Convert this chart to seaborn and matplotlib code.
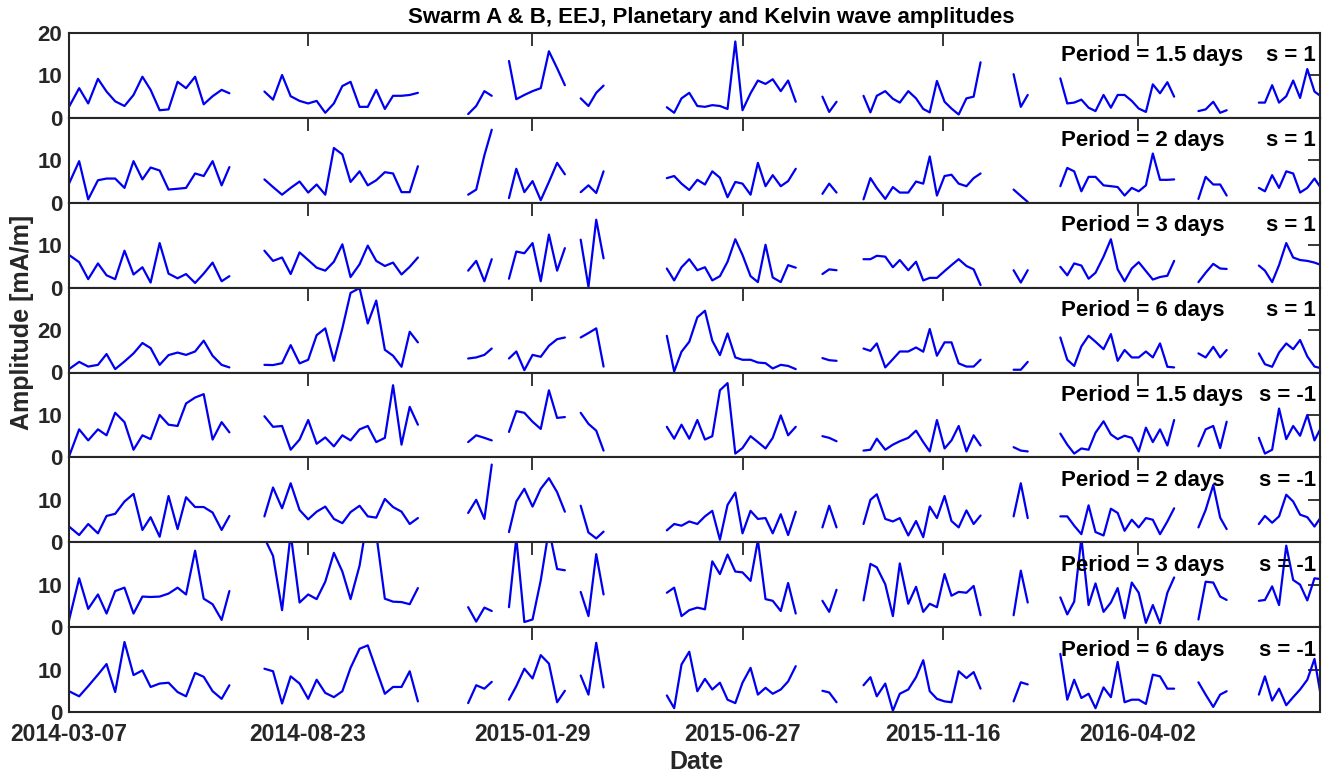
import numpy as np
import pandas as pd
import matplotlib
matplotlib.use("Agg")
import matplotlib.pyplot as plt
import seaborn as sns

# ---------------- data ----------------
start_date = "2014-03-07"
end_day = 886
tick_labels = ["2014-03-07", "2014-08-23", "2015-01-29", "2015-06-27", "2015-11-16", "2016-04-02"]

# sample times (days after 2014-03-07)
sample_days = [
    0.0, 7.2, 13.6, 20.5, 26.6, 32.7, 39.3, 45.7, 52.0, 57.8, 64.2, 70.5, 76.9, 82.9, 89.3, 95.4, 101.7, 108.1, 113.6,
    138.4, 144.5, 150.9, 157.0, 163.3, 169.4, 175.4, 181.5, 187.6, 193.6, 199.4, 205.8, 211.6, 217.6, 223.7, 229.5, 235.5, 241.3, 247.1,
    282.7, 288.4, 294.2, 299.4,
    311.6, 316.8, 322.5, 328.3, 334.1, 339.9, 345.7, 351.2,
    362.4, 367.9, 373.4, 378.6,
    423.4, 428.6, 433.8, 439.3, 445.0, 450.4, 455.6, 461.0, 466.4, 471.9, 477.0, 482.7, 487.9, 493.3, 498.4, 504.1, 509.3, 514.7,
    533.6, 538.4, 543.6,
    562.7, 567.6, 572.1, 578.1, 583.5, 588.4, 594.4, 599.9, 605.0, 609.6, 614.7, 620.1, 625.0, 630.1, 635.6, 640.7, 645.6,
    669.0, 674.1, 679.0,
    702.1, 707.0, 711.9, 717.0, 722.1, 727.0, 732.7, 737.9, 742.7, 747.6, 752.7, 757.6, 762.7, 767.6, 772.7, 777.9, 782.7,
    799.9, 805.0, 810.4, 815.3, 819.9,
    842.7, 847.0, 852.1, 857.0, 862.1, 867.0, 871.9, 877.0, 882.1, 887.0,
]

amp_p15_s1 = [
    2.6, 7.0, 3.4, 9.2, 6.2, 3.9, 2.8, 5.4, 9.7, 6.6, 1.8, 2.0, 8.5, 7.0, 9.7, 3.2, 5.1, 6.6, 5.8,
    6.2, 4.3, 10.1, 5.1, 4.0, 3.4, 4.0, 1.2, 3.4, 7.5, 8.5, 2.6, 2.6, 6.6, 2.1, 5.2, 5.2, 5.4, 5.9,
    0.9, 2.8, 6.3, 5.2,
    13.4, 4.4, 5.4, 6.3, 7.0, 15.7, 11.7, 7.7,
    4.6, 2.8, 5.9, 7.6,
    2.5, 1.2, 4.6, 5.9, 2.8, 2.6, 3.0, 2.8, 2.1, 18.0, 1.8, 5.8, 8.8, 8.0, 9.1, 6.3, 8.8, 3.8,
    5.0, 1.4, 3.8,
    5.2, 1.3, 5.2, 6.3, 4.5, 3.6, 6.3, 4.6, 2.1, 1.3, 8.7, 3.8, 2.2, 0.8, 4.6, 5.0, 13.1,
    10.3, 2.6, 5.4,
    9.3, 3.4, 3.6, 4.3, 2.4, 1.6, 5.4, 2.4, 5.4, 5.4, 4.0, 2.2, 1.4, 7.9, 5.8, 8.4, 5.0,
    1.6, 2.0, 3.8, 1.2, 1.8,
    3.6, 3.6, 7.7, 3.6, 5.1, 8.8, 4.7, 11.5, 6.2, 5.0,
]
amp_p2_s1 = [
    4.5, 9.8, 0.8, 5.3, 5.7, 5.7, 3.5, 9.8, 5.5, 8.3, 7.6, 3.1, 3.3, 3.5, 6.9, 6.3, 9.8, 4.1, 8.4,
    5.5, 3.7, 1.9, 3.5, 5.0, 2.4, 4.3, 1.9, 12.9, 11.4, 4.9, 7.4, 4.1, 5.3, 7.2, 6.9, 2.5, 2.5, 8.6,
    1.9, 3.1, 11.2, 17.2,
    1.1, 8.0, 2.5, 5.1, 0.6, 4.9, 9.4, 6.7,
    2.5, 4.1, 2.3, 7.4,
    5.8, 6.3, 4.5, 3.0, 5.4, 4.3, 7.4, 5.9, 1.3, 4.9, 4.5, 1.9, 9.4, 3.9, 6.5, 3.9, 5.1, 8.0,
    2.1, 4.5, 2.4,
    0.8, 5.8, 3.5, 0.9, 3.7, 2.4, 2.4, 5.0, 4.5, 10.9, 1.7, 6.3, 6.6, 4.5, 3.9, 5.8, 6.9,
    3.1, 1.6, 0.2,
    3.9, 8.2, 7.4, 2.7, 6.1, 6.1, 4.1, 3.9, 3.7, 1.7, 3.5, 2.7, 4.1, 11.6, 5.4, 5.4, 5.5,
    0.9, 6.1, 4.3, 4.3, 1.7,
    3.5, 2.7, 6.5, 3.5, 7.4, 6.9, 2.4, 3.5, 5.7, 3.3,
]
amp_p3_s1 = [
    7.7, 6.0, 2.0, 5.7, 2.9, 2.0, 8.7, 3.1, 4.8, 1.2, 10.5, 3.3, 2.2, 3.2, 1.1, 3.3, 5.9, 1.5, 2.7,
    8.7, 6.3, 7.1, 3.2, 8.3, 6.5, 4.7, 4.0, 6.1, 10.2, 2.5, 5.5, 9.9, 6.3, 5.1, 5.9, 3.1, 4.9, 7.1,
    4.0, 6.3, 1.5, 6.7,
    2.1, 8.5, 8.1, 10.5, 1.5, 12.5, 4.0, 9.3,
    11.3, 0.2, 16.0, 6.9,
    4.5, 1.7, 4.8, 6.7, 4.1, 4.8, 1.7, 2.7, 6.1, 11.4, 7.7, 2.7, 1.3, 10.1, 2.4, 1.3, 5.3, 4.7,
    3.2, 4.3, 4.1,
    6.7, 6.7, 7.5, 7.3, 4.8, 6.5, 4.1, 6.1, 1.7, 2.3, 2.3, 3.9, 5.3, 6.7, 5.1, 4.3, 0.6,
    4.1, 1.2, 4.1,
    4.9, 2.9, 5.7, 5.2, 2.1, 3.5, 7.3, 11.4, 4.3, 1.5, 4.5, 6.0, 3.9, 1.9, 2.5, 2.8, 6.3,
    1.3, 3.5, 5.6, 4.5, 4.4,
    5.2, 4.0, 1.3, 5.3, 10.5, 7.1, 6.5, 6.3, 5.9, 5.3,
]
amp_p6_s1 = [
    1.6, 5.0, 2.8, 3.6, 8.7, 1.6, 5.2, 9.0, 13.9, 11.5, 3.6, 8.2, 9.4, 8.3, 9.9, 15.0, 7.9, 3.6, 2.4,
    3.6, 3.5, 4.4, 12.9, 4.3, 6.0, 17.6, 20.8, 5.5, 20.8, 37.5, 39.8, 23.1, 33.9, 10.7, 7.9, 2.7, 19.2, 14.2,
    6.6, 7.1, 8.3, 11.3,
    6.6, 9.9, 1.1, 8.3, 7.4, 12.6, 15.7, 16.5,
    16.5, 18.6, 20.8, 2.8,
    17.3, 0.5, 9.8, 14.5, 26.0, 29.1, 15.0, 8.2, 18.4, 7.1, 6.0, 6.0, 4.7, 4.4, 1.9, 3.6, 3.1, 1.6,
    6.8, 5.8, 5.5,
    11.3, 10.2, 13.7, 2.4, 6.3, 9.9, 9.9, 11.8, 9.8, 20.5, 7.9, 14.2, 14.2, 4.3, 2.8, 2.8, 6.0,
    1.3, 1.3, 5.0,
    16.5, 6.0, 3.1, 12.3, 17.3, 14.5, 11.0, 18.1, 5.5, 10.6, 7.1, 7.1, 9.9, 7.1, 13.7, 2.7, 2.4,
    9.0, 7.1, 12.1, 7.1, 10.6,
    9.0, 3.9, 2.7, 9.4, 13.7, 11.0, 15.3, 7.6, 2.8, 2.0,
]
amp_p15_sm1 = [
    0.2, 6.6, 4.0, 6.6, 5.2, 10.5, 8.3, 1.8, 5.2, 4.3, 10.0, 7.7, 7.4, 12.7, 14.1, 14.9, 4.2, 8.3, 5.9,
    9.7, 7.2, 7.4, 1.8, 4.2, 8.8, 3.2, 4.7, 2.6, 5.2, 4.0, 6.6, 7.4, 3.6, 4.6, 17.0, 3.0, 11.9, 7.7,
    3.6, 5.2, 4.6, 4.0,
    6.0, 10.9, 10.5, 8.4, 6.7, 15.8, 9.3, 9.5,
    10.5, 7.9, 6.3, 1.6,
    7.2, 4.4, 7.7, 4.4, 8.8, 4.2, 5.0, 15.8, 17.5, 0.9, 2.2, 5.0, 3.6, 2.1, 4.6, 9.9, 5.2, 7.2,
    5.0, 4.6, 3.8,
    1.6, 1.8, 4.4, 1.8, 3.0, 3.8, 4.6, 6.3, 3.6, 1.4, 8.8, 2.1, 4.0, 7.4, 1.4, 5.2, 2.8,
    2.4, 1.6, 1.4,
    5.6, 3.0, 0.9, 2.1, 1.8, 5.8, 8.5, 5.4, 4.3, 5.1, 4.6, 1.4, 7.0, 3.6, 6.6, 2.8, 8.8,
    2.6, 6.6, 7.4, 2.2, 8.4,
    4.6, 0.9, 1.8, 11.5, 4.3, 7.4, 5.1, 10.0, 4.0, 7.2,
]
amp_p2_sm1 = [
    3.7, 1.7, 4.3, 2.1, 6.2, 6.7, 9.6, 11.4, 2.9, 5.9, 1.3, 10.9, 3.1, 10.6, 8.3, 8.3, 7.0, 2.9, 6.2,
    6.1, 12.9, 8.0, 13.9, 7.6, 5.4, 7.2, 8.4, 5.5, 4.5, 7.1, 8.6, 6.1, 5.8, 10.2, 8.3, 7.2, 4.3, 5.7,
    6.9, 10.0, 5.5, 18.3,
    2.4, 9.6, 12.6, 8.4, 12.6, 15.1, 11.8, 7.2,
    8.6, 2.3, 0.9, 2.5,
    2.8, 4.3, 3.9, 4.9, 4.3, 6.1, 7.4, 0.6, 8.8, 11.7, 2.1, 7.4, 5.5, 5.7, 2.1, 6.6, 1.7, 7.2,
    3.5, 8.6, 3.5,
    4.3, 10.0, 11.3, 5.5, 4.9, 5.7, 1.6, 5.0, 1.2, 8.4, 5.7, 10.9, 5.0, 3.5, 7.5, 4.3, 6.3,
    6.1, 13.9, 5.7,
    6.1, 6.1, 3.9, 1.9, 8.7, 2.4, 1.6, 7.9, 6.9, 2.7, 5.3, 3.5, 5.7, 5.3, 1.9, 4.9, 8.0,
    3.5, 7.6, 13.5, 5.8, 3.1,
    4.3, 6.2, 4.6, 6.1, 11.2, 9.6, 6.5, 5.9, 3.7, 6.1,
]
amp_p3_sm1 = [
    1.6, 11.5, 4.3, 7.7, 3.2, 8.5, 9.3, 3.2, 7.2, 7.1, 7.2, 7.9, 9.3, 7.7, 18.0, 6.7, 5.4, 1.7, 8.5,
    21.0, 16.8, 4.0, 22.0, 5.8, 7.7, 6.6, 10.7, 17.5, 13.1, 6.6, 14.5, 26.0, 22.0, 6.7, 6.0, 5.9, 5.4, 9.2,
    4.7, 1.3, 4.6, 3.8,
    4.7, 21.0, 1.2, 1.8, 11.0, 23.0, 13.7, 13.4,
    8.3, 2.6, 17.2, 7.7,
    8.1, 9.3, 2.6, 4.0, 4.6, 4.2, 15.5, 12.5, 17.1, 13.1, 12.9, 10.9, 20.5, 6.6, 6.2, 3.8, 10.4, 3.2,
    6.2, 3.6, 8.8,
    6.3, 14.9, 14.1, 10.1, 2.6, 15.0, 5.5, 9.5, 3.6, 5.5, 4.7, 12.5, 7.4, 8.3, 8.1, 9.7, 2.8,
    2.8, 13.3, 5.8,
    7.0, 3.0, 6.0, 21.0, 5.2, 10.3, 3.6, 5.8, 9.2, 2.1, 10.5, 8.1, 1.0, 5.2, 0.9, 8.1, 11.7,
    1.8, 10.7, 10.5, 7.2, 6.4,
    6.2, 6.4, 9.6, 5.2, 19.2, 11.1, 10.0, 6.3, 11.5, 11.3,
]
amp_p6_sm1 = [
    4.9, 3.7, 6.1, 8.8, 11.3, 4.7, 16.5, 8.7, 9.8, 5.9, 6.7, 6.9, 4.7, 3.7, 9.2, 8.3, 4.9, 3.1, 6.3,
    10.2, 9.6, 2.0, 8.4, 6.7, 3.1, 7.6, 4.5, 3.5, 4.9, 10.4, 14.9, 15.7, 10.0, 4.3, 5.9, 5.9, 9.6, 2.5,
    2.1, 6.3, 5.5, 7.1,
    2.9, 6.1, 10.2, 7.9, 13.4, 11.4, 2.3, 5.0,
    8.6, 4.1, 16.3, 5.8,
    3.9, 0.9, 11.2, 14.2, 4.9, 7.8, 5.3, 6.9, 2.9, 2.1, 6.9, 10.4, 4.1, 5.7, 4.3, 5.3, 7.2, 10.8,
    5.0, 4.6, 2.3,
    6.3, 8.2, 3.7, 6.7, 0.3, 4.3, 5.3, 8.2, 12.2, 4.9, 3.1, 2.5, 2.3, 9.6, 8.0, 9.4, 5.5,
    2.5, 7.0, 6.5,
    13.7, 2.9, 7.6, 3.3, 4.3, 0.9, 5.8, 3.5, 11.8, 2.3, 2.9, 2.9, 1.9, 8.8, 8.4, 5.5, 5.5,
    7.0, 4.1, 1.2, 4.1, 4.9,
    4.1, 8.4, 2.7, 5.5, 1.6, 3.5, 5.3, 7.6, 12.5, 3.0,
]

panel_amps = [amp_p15_s1, amp_p2_s1, amp_p3_s1, amp_p6_s1,
              amp_p15_sm1, amp_p2_sm1, amp_p3_sm1, amp_p6_sm1]
periods = ["1.5", "2", "3", "6", "1.5", "2", "3", "6"]
s_values = ["1", "1", "1", "1", "-1", "-1", "-1", "-1"]
y_max = [20, 20, 20, 40, 20, 20, 20, 20]
y_ticks = [[0, 10, 20], [0, 10], [0, 10], [0, 20], [0, 10], [0, 10], [0, 10], [0, 10]]

# ---------------- style ----------------
sns.set_theme(style="white")
plt.rcParams["font.family"] = ["Liberation Sans", "DejaVu Sans"]
plt.rcParams["font.weight"] = "bold"
axis_color = "#262626"

fig = plt.figure(figsize=(13.22, 7.73), dpi=100)
W, H = 1322, 773
gs = fig.add_gridspec(8, 1, left=69 / W, right=1320 / W, top=1 - 33 / H, bottom=1 - 712 / H, hspace=0)

t0 = pd.Timestamp(start_date)
dates = t0 + pd.to_timedelta(np.array(sample_days), unit="D")
tick_pos = [pd.Timestamp(t) for t in tick_labels]
days_arr = np.array(sample_days)
seg_start = np.r_[True, np.diff(days_arr) > 9]

axes = []
for i, amps in enumerate(panel_amps):
    ax = fig.add_subplot(gs[i])
    vals = np.array(amps, dtype=float)
    run = np.cumsum(seg_start | np.isnan(vals))
    df = pd.DataFrame({"date": dates, "amp": vals, "run": run}).dropna()
    sns.lineplot(data=df, x="date", y="amp", units="run", estimator=None,
                 color="#0000f0", linewidth=1.6, ax=ax, legend=False)
    ax.set_xlim(t0, t0 + pd.Timedelta(days=end_day))
    ax.set_ylim(0, y_max[i])
    ax.set_yticks(y_ticks[i])
    ax.set_yticklabels([str(v) for v in y_ticks[i]])
    ax.set_xticks(tick_pos)
    if i == 7:
        ax.set_xticklabels(tick_labels)
    else:
        ax.set_xticklabels([])
    ax.set_xlabel("")
    ax.set_ylabel("")
    ax.tick_params(axis="both", direction="in", length=9, width=1.3, color=axis_color,
                   top=True, right=True, labelcolor=axis_color)
    ax.tick_params(axis="x", pad=8, labelsize=16.5)
    ax.tick_params(axis="y", pad=5, labelsize=16)
    for lab in ax.get_xticklabels() + ax.get_yticklabels():
        lab.set_fontweight("bold")
    for sp in ax.spines.values():
        sp.set_color(axis_color)
        sp.set_linewidth(1.5)
        sp.set_visible(True)
    ax.text(0.793, 0.73, f"Period = {periods[i]} days", transform=ax.transAxes,
            ha="left", va="center", fontsize=16, fontweight="bold", color="black")
    ax.text(0.997, 0.73, f"s = {s_values[i]}", transform=ax.transAxes,
            ha="right", va="center", fontsize=16, fontweight="bold", color="black")
    axes.append(ax)

fig.text(711.5 / W, 1 - 18 / H, "Swarm A & B, EEJ, Planetary and Kelvin wave amplitudes",
         ha="center", va="center", fontsize=16, fontweight="bold", color="black")
fig.text(696 / W, 1 - 762 / H, "Date", ha="center", va="center",
         fontsize=18, fontweight="bold", color=axis_color)
fig.text(22 / W, 1 - 322 / H, "Amplitude [mA/m]", ha="center", va="center", rotation=90,
         fontsize=18, fontweight="bold", color=axis_color)

fig.savefig("out.png", dpi=100)
